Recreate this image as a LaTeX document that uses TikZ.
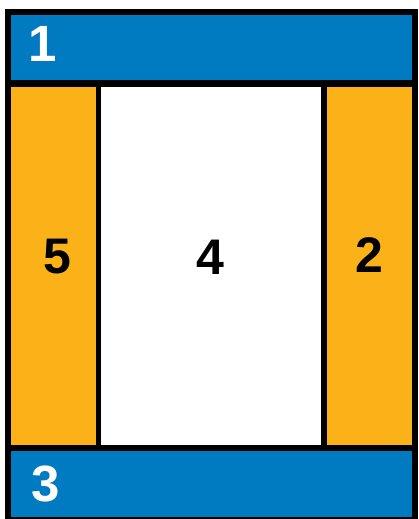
\documentclass[tikz,border=0pt]{standalone}
\usepackage{fontspec}
\setmainfont{Liberation Sans}
\definecolor{cblue}{RGB}{0,122,192}
\definecolor{corange}{RGB}{251,177,24}
\begin{document}
\begin{tikzpicture}[x=1pt,y=-1pt,
  big/.style={font=\fontsize{51}{51}\selectfont\bfseries, inner sep=0pt, anchor=base},
  mid/.style={font=\fontsize{50}{50}\selectfont\bfseries, inner sep=0pt, anchor=base}]
\useasboundingbox (0,0) rectangle (418,519);
\fill[white] (0,0) rectangle (418,519);
\fill[black] (5,9) rectangle (418,519);
\fill[cblue] (11,15) rectangle (412,80);
\fill[corange] (11,87) rectangle (96,445);
\fill[white] (101,87) rectangle (321,445);
\fill[corange] (327,87) rectangle (412,445);
\fill[cblue] (11,451) rectangle (412,517);
\node[big, text=white] (n1) at (43,62) {1};
\node[big, text=white] (n3) at (46,501) {3};
\node[mid] (n5) at (57,273) {5};
\node[mid] (n4) at (210,274) {4};
\node[mid] (n2) at (369,272) {2};
\end{tikzpicture}
\end{document}
